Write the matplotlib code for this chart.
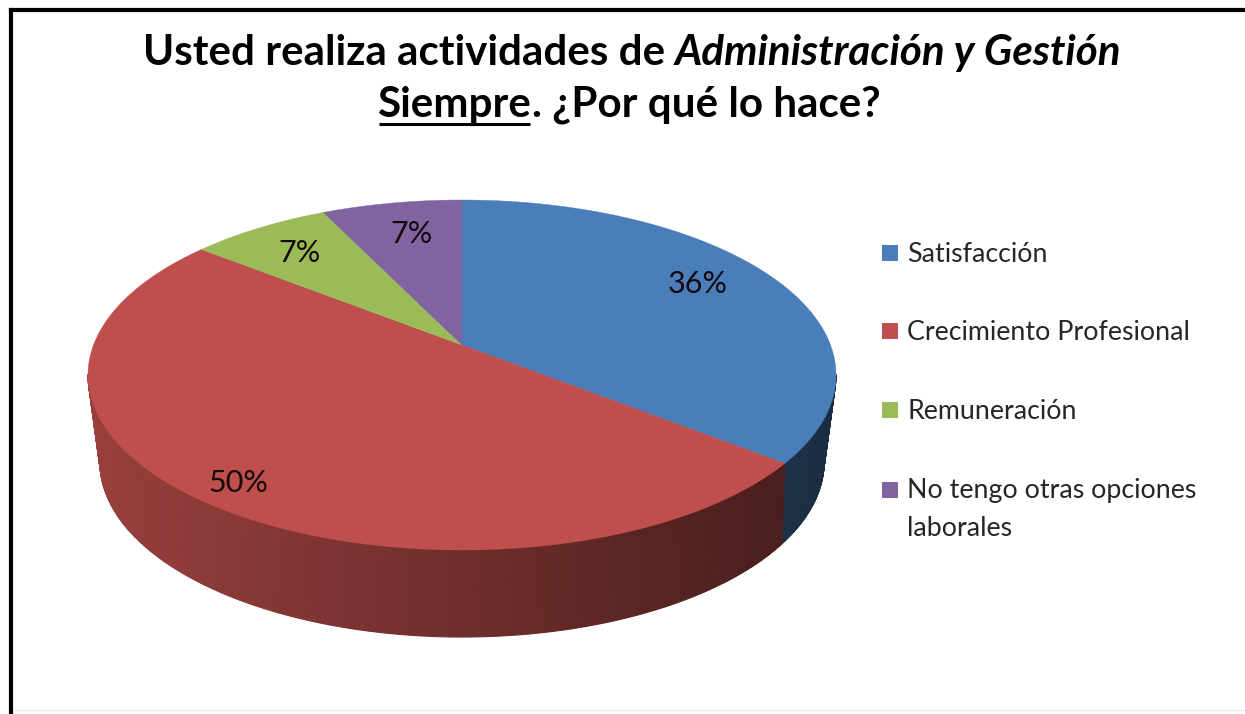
import numpy as np
import matplotlib
matplotlib.use("Agg")
import matplotlib.pyplot as plt

# ---- data ----
categories = ["Satisfacción", "Crecimiento Profesional", "Remuneración",
              "No tengo otras opciones\nlaborales"]
values = [35.7, 50.0, 7.15, 7.15]
pct_labels = ["36%", "50%", "7%", "7%"]
colors = ["#4A7EBB", "#BE4F4C", "#9BBB59", "#8064A2"]

W, H = 1245, 714
plt.rcParams["font.family"] = ["Lato", "DejaVu Sans"]
fig = plt.figure(figsize=(W / 100, H / 100), dpi=100, facecolor="white")
ax = fig.add_axes([0, 0, 1, 1])
ax.set_xlim(0, W)
ax.set_ylim(H, 0)
ax.axis("off")

# ---- geometry of the perspective pie ----
CX, CY_TOP, CY_BOT = 462.0, 375.0, 462.0
RX_TOP, RX_BOT, RY = 374.0, 362.0, 175.0
APEX = 30.0
C = APEX * 2 / (2 * RY)
K = RX_TOP * (RY - APEX * C) / np.sqrt(RY ** 2 - APEX ** 2)


def top_xy(theta):
    """Clockwise angle from 12 o'clock on the disc -> offset on the top ellipse (Y up)."""
    x, y = np.sin(theta), np.cos(theta)
    d = 1 + C * y
    return K * x / d, (RY * y + APEX) / d


def bottom_xy(X, Y):
    phi = np.arctan2(Y / RY, X / RX_TOP)
    phi = np.where(phi > 0, phi, -phi)
    phib = phi - 0.05 * np.sin(2 * phi)
    return RX_BOT * np.cos(phib), RY * np.sin(phib)


def shade(px):
    return float(np.clip(0.80 - (px - 100) / 690 * 0.42, 0.3, 0.85))


def scaled(col, f):
    rgb = np.array(matplotlib.colors.to_rgb(col))
    return tuple(rgb * f)


fracs = np.array(values) / sum(values)
edges = np.concatenate([[0], np.cumsum(fracs)]) * 2 * np.pi

# side wall
for i, col in enumerate(colors):
    th = np.linspace(edges[i], edges[i + 1], max(int((edges[i + 1] - edges[i]) * 130), 3))
    for a, b in zip(th[:-1], th[1:]):
        xa, ya = top_xy(a)
        xb, yb = top_xy(b)
        if ya > 0 and yb > 0:
            continue
        xa2, ya2 = bottom_xy(xa, ya)
        xb2, yb2 = bottom_xy(xb, yb)
        px = [CX + xa, CX + xb, CX + float(xb2), CX + float(xa2)]
        py = [CY_TOP - ya, CY_TOP - yb, CY_BOT + float(yb2), CY_BOT + float(ya2)]
        c = scaled(col, shade(np.mean(px)))
        ax.fill(px, py, color=c, lw=0.8, zorder=2)

# top faces
for i, col in enumerate(colors):
    th = np.linspace(edges[i], edges[i + 1], 200)
    X, Y = top_xy(th)
    ax.fill(np.r_[CX, CX + X], np.r_[CY_TOP - APEX, CY_TOP - Y], color=col, lw=0.3, zorder=3)

# percentage labels
label_pos = [(698, 284), (238, 483), (299, 253), (411, 234)]
for t, (x, y) in zip(pct_labels, label_pos):
    ax.text(x, y, t, fontsize=22, ha="center", va="center", color="#150a0a", zorder=5)

# legend
legend_y = [253, 331, 410, 490]
legend_base = [262, 340, 419, 498]
for name, col, y, b in zip(categories, colors, legend_y, legend_base):
    ax.fill([882, 898, 898, 882], [y - 8, y - 8, y + 8, y + 8], color=col, lw=0, zorder=4)
    lines = name.split("\n")
    for k, line in enumerate(lines):
        ax.text(907, b + 38 * k, line, fontsize=19.3, va="baseline", ha="left",
                color="#262626", zorder=5)

# title, built from runs so one line can mix weights and slopes
renderer = fig.canvas.get_renderer()


def run_line(runs, xc, ybase, fs):
    arts = [ax.text(0, ybase, t, fontsize=fs, fontweight="bold", fontstyle=s,
                    va="baseline", ha="left", color="black", zorder=6) for t, s, _ in runs]
    widths = []
    for art, (t, s, _) in zip(arts, runs):
        probe = ax.text(0, ybase, t + "|", fontsize=fs, fontweight="bold", fontstyle=s)
        bar = ax.text(0, ybase, "|", fontsize=fs, fontweight="bold", fontstyle=s)
        widths.append(probe.get_window_extent(renderer).width - bar.get_window_extent(renderer).width)
        probe.remove()
        bar.remove()
    x = xc - sum(widths) / 2
    for art, w, (t, s, ul) in zip(arts, widths, runs):
        art.set_x(x)
        if ul:
            ax.plot([x + 1, x + w - 2], [ybase + 7, ybase + 7], color="black", lw=2.2,
                    solid_capstyle="butt", zorder=6)
        x += w


run_line([("Usted realiza actividades de ", "normal", False),
          ("Administración y Gestión", "italic", False)], 632, 65, 30.3)
run_line([("Siempre", "normal", True), (". ¿Por qué lo hace?", "normal", False)], 629, 117, 30.3)

# frame
ax.plot([11, 11], [H, 9.5], color="black", lw=3.0, solid_capstyle="projecting", zorder=7)
ax.plot([11, W], [9.5, 9.5], color="black", lw=3.0, zorder=7)
ax.plot([13, W], [710, 710], color="#ececec", lw=0.8, zorder=1)

fig.savefig("out.png", dpi=100, facecolor="white")
